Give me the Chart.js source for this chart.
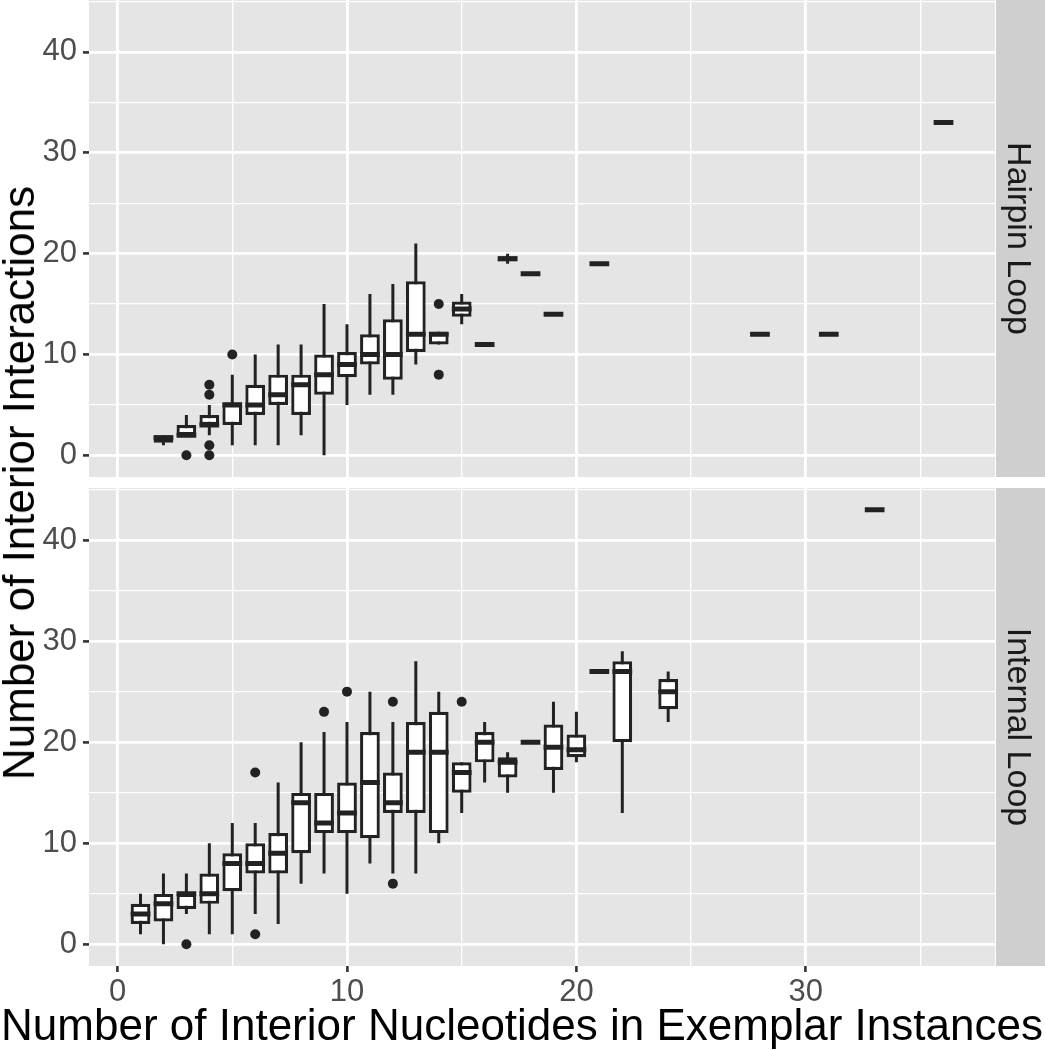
<!DOCTYPE html>
<html>
<head>
<meta charset="utf-8">
<title>Interior interactions by interior nucleotides</title>
<script src="https://cdn.jsdelivr.net/npm/chart.js@4.4.1/dist/chart.umd.min.js"></script>
<style>
  body { margin: 0; background: #fff; }
  #wrap { position: relative; width: 1045px; height: 1050px; font-family: "Liberation Sans", Arial, sans-serif; }
  canvas { position: absolute; left: 0; }
  #cTop { top: 0; }
  #cBot { top: 478px; }
  .title { position: absolute; font-size: 44px; line-height: 44px; color: #000; white-space: nowrap; }
  #yTitle { left: 19px; top: 483px; transform: translate(-50%, -50%) rotate(-90deg); }
  #xTitle { left: 522px; top: 1003px; transform: translateX(-50%); }
</style>
</head>
<body>
<div id="wrap">
  <canvas id="cTop" width="1045" height="477"></canvas>
  <canvas id="cBot" width="1045" height="572"></canvas>
  <div class="title" id="yTitle">Number of Interior Interactions</div>
  <div class="title" id="xTitle">Number of Interior Nucleotides in Exemplar Instances</div>
</div>
<script>
// Hairpin loop facet: box stats per number of nucleotides
const hpX   = [2, 3, 4, 5, 6, 7, 8, 9, 10, 11, 12, 13, 14, 15, 16, 17, 18, 19, 21, 28, 31, 36];
const hpLo  = [1, 2, 2, 1, 1, 1, 2, 0, 5, 6, 6, 9, 11, 13, 11, 19, 18, 14, 19, 12, 12, 33];
const hpQ1  = [1.25, 2, 3, 3, 4, 5, 4, 6, 7.75, 9, 7.5, 10.25, 11, 13.75, 11, 19.25, 18, 14, 19, 12, 12, 33];
const hpMed = [1.75, 2, 3, 5, 5, 6, 7, 8, 9, 10, 10, 12, 12, 14.5, 11, 19.5, 18, 14, 19, 12, 12, 33];
const hpQ3  = [2, 3, 4, 5.25, 7, 8, 8, 10, 10.25, 12, 13.5, 17.25, 12.25, 15.25, 11, 19.75, 18, 14, 19, 12, 12, 33];
const hpHi  = [2, 4, 5, 8, 10, 11, 11, 15, 13, 16, 17, 21, 12.25, 16, 11, 20, 18, 14, 19, 12, 12, 33];
const hpOutX = [3, 4, 4, 4, 4, 5, 14, 14];
const hpOutY = [0, 7, 6, 1, 0, 10, 15, 8];

// Internal loop facet
const ilX   = [1, 2, 3, 4, 5, 6, 7, 8, 9, 10, 11, 12, 13, 14, 15, 16, 17, 18, 19, 20, 21, 22, 24, 33];
const ilLo  = [1, 0, 3, 1, 1, 3, 2, 6, 7, 5, 8, 7, 7, 10, 13, 16, 15, 20, 15, 18, 27, 13, 22, 43];
const ilQ1  = [2, 2.25, 3.5, 4, 5.25, 7, 7, 9, 11, 11, 10.5, 13, 13, 11, 15, 18, 16.5, 20, 17.25, 18.5, 27, 20, 23.25, 43];
const ilMed = [3, 4, 5, 5, 8, 8, 9, 14, 12, 13, 16, 14, 19, 19, 17, 20, 18, 20, 19.5, 19.25, 27, 27, 25, 43];
const ilQ3  = [4, 5, 5, 7, 9, 10, 11, 15, 15, 16, 21, 17, 22, 23, 18, 21, 18.5, 20, 21.75, 20.75, 27, 28, 26.25, 43];
const ilHi  = [5, 7, 7, 10, 12, 12, 16, 20, 21, 22, 25, 22, 28, 25, 18, 22, 19, 20, 24, 23, 27, 29, 27, 43];
const ilOutX = [3, 6, 6, 9, 10, 12, 12, 15];
const ilOutY = [0, 17, 1, 23, 25, 24, 6, 24];

// Axis breaks
const xMajor = [0, 10, 20, 30];
const xMinor = [5, 15, 25, 35];
const yMajor = [0, 10, 20, 30, 40];
const yMinor = [5, 15, 25, 35, 45];

const X_MIN = -1.245, X_MAX = 38.245;
const Y_MIN = -2.15, Y_MAX = 45.15;

const INK = "#222222";
const FONT = '"Liberation Sans", Arial, sans-serif';

function boxData(xs, q1, q3) {
  return xs.map((x, i) => ({ x: x, y: [q1[i], q3[i]] }));
}

function pointData(xs, ys) {
  return xs.map((x, i) => ({ x: x, y: ys[i] }));
}

function isMajor(ctx, majors) {
  return ctx.tick && majors.includes(ctx.tick.value);
}

// panel background + facet strip
const panelPlugin = {
  id: "panel",
  beforeDraw(chart) {
    const { ctx, chartArea: a } = chart;
    ctx.save();
    ctx.fillStyle = "#E5E5E5";
    ctx.fillRect(a.left, a.top, a.right - a.left, a.bottom - a.top);
    ctx.restore();
  },
  afterDraw(chart, args, opts) {
    const { ctx, chartArea: a } = chart;
    ctx.save();
    ctx.fillStyle = "#CFCFCF";
    ctx.fillRect(a.right + 1, a.top, chart.width - a.right - 1, a.bottom - a.top);
    ctx.translate(1008, (a.top + a.bottom) / 2);
    ctx.rotate(Math.PI / 2);
    ctx.fillStyle = "#1A1A1A";
    ctx.font = "34px " + FONT;
    ctx.textAlign = "center";
    ctx.textBaseline = "alphabetic";
    ctx.fillText(opts.label, 0, 0);
    ctx.restore();
  },
};

// whiskers behind the boxes, medians on top
const boxPlugin = {
  id: "boxParts",
  beforeDatasetsDraw(chart, args, opts) {
    const { ctx, chartArea: a, scales: { x, y } } = chart;
    ctx.save();
    ctx.beginPath();
    ctx.rect(a.left, a.top, a.right - a.left, a.bottom - a.top);
    ctx.clip();
    ctx.strokeStyle = INK;
    ctx.lineWidth = 3;
    ctx.beginPath();
    opts.xs.forEach((v, i) => {
      const px = x.getPixelForValue(v);
      ctx.moveTo(px, y.getPixelForValue(opts.lo[i]));
      ctx.lineTo(px, y.getPixelForValue(opts.hi[i]));
    });
    ctx.stroke();
    ctx.restore();
  },
  afterDatasetsDraw(chart, args, opts) {
    const { ctx, scales: { y } } = chart;
    const bars = chart.getDatasetMeta(0).data;
    ctx.save();
    ctx.strokeStyle = INK;
    ctx.lineWidth = 5;
    ctx.beginPath();
    bars.forEach((bar, i) => {
      const py = y.getPixelForValue(opts.med[i]);
      ctx.moveTo(bar.x - bar.width / 2, py);
      ctx.lineTo(bar.x + bar.width / 2, py);
    });
    ctx.stroke();
    ctx.restore();
  },
};

function makeFacet(canvasId, label, xs, lo, q1, med, q3, hi, outX, outY, showX) {
  const tickFont = { family: FONT, size: 31 };
  return new Chart(document.getElementById(canvasId), {
    type: "bar",
    data: {
      datasets: [
        {
          type: "bar",
          data: boxData(xs, q1, q3),
          backgroundColor: "#FFFFFF",
          borderColor: INK,
          borderWidth: 3.2,
          borderSkipped: false,
          categoryPercentage: 1,
          barPercentage: 0.86,
        },
        {
          type: "scatter",
          data: pointData(outX, outY),
          pointRadius: 5,
          pointBackgroundColor: INK,
          pointBorderWidth: 0,
        },
      ],
    },
    options: {
      responsive: false,
      animation: false,
      devicePixelRatio: 1,
      events: [],
      layout: {
        autoPadding: false,
        padding: { top: showX ? 10 : 0, right: 50, bottom: 0, left: 0 },
      },
      plugins: {
        legend: { display: false },
        tooltip: { enabled: false },
        panel: { label: label },
        boxParts: { xs: xs, lo: lo, med: med, hi: hi },
      },
      scales: {
        x: {
          type: "linear",
          min: X_MIN,
          max: X_MAX,
          offset: false,
          afterBuildTicks: (s) => {
            s.ticks = xMajor.concat(xMinor).sort((a, b) => a - b).map((v) => ({ value: v }));
          },
          afterFit: (s) => {
            s.height = showX ? 84 : 0;
            s.paddingLeft = 0;
            s.paddingRight = 0;
          },
          ticks: {
            display: showX,
            autoSkip: false,
            maxRotation: 0,
            padding: 2,
            color: "#4D4D4D",
            font: tickFont,
            callback: (v) => (xMajor.includes(v) ? String(v) : ""),
          },
          grid: {
            color: "#FFFFFF",
            offset: false,
            lineWidth: (ctx) => (isMajor(ctx, xMajor) ? 2.8 : 1.3),
            drawTicks: showX,
            tickLength: 6,
            tickWidth: 2.6,
            tickColor: (ctx) => (isMajor(ctx, xMajor) ? "#333333" : "rgba(0,0,0,0)"),
          },
          border: { display: false },
        },
        y: {
          type: "linear",
          min: Y_MIN,
          max: Y_MAX,
          afterBuildTicks: (s) => {
            s.ticks = yMajor.concat(yMinor).sort((a, b) => a - b).map((v) => ({ value: v }));
          },
          afterFit: (s) => {
            s.width = 89;
            s.paddingTop = 0;
            s.paddingBottom = 0;
          },
          ticks: {
            autoSkip: false,
            padding: 6,
            color: "#4D4D4D",
            font: tickFont,
            callback: (v) => (yMajor.includes(v) ? String(v) : ""),
          },
          grid: {
            color: "#FFFFFF",
            lineWidth: (ctx) => (isMajor(ctx, yMajor) ? 2.8 : 1.3),
            tickLength: 6,
            tickWidth: 2.6,
            tickColor: (ctx) => (isMajor(ctx, yMajor) ? "#333333" : "rgba(0,0,0,0)"),
          },
          border: { display: false },
        },
      },
    },
    plugins: [panelPlugin, boxPlugin],
  });
}

makeFacet("cTop", "Hairpin Loop", hpX, hpLo, hpQ1, hpMed, hpQ3, hpHi, hpOutX, hpOutY, false);
makeFacet("cBot", "Internal Loop", ilX, ilLo, ilQ1, ilMed, ilQ3, ilHi, ilOutX, ilOutY, true);
</script>
</body>
</html>
